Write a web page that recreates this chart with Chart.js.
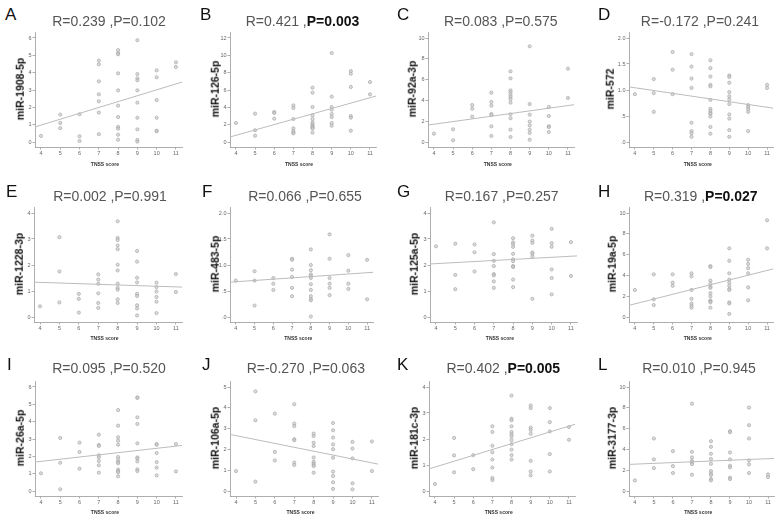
<!DOCTYPE html>
<html><head><meta charset="utf-8">
<script src="https://cdn.jsdelivr.net/npm/chart.js@4.4.0/dist/chart.umd.min.js"></script>
<style>
html,body{margin:0;padding:0;background:#fff;}
#wrap{position:relative;width:780px;height:520px;overflow:hidden;font-family:"Liberation Sans",Arial,sans-serif;}
canvas{position:absolute;}
.letter{position:absolute;font-size:17px;color:#111;line-height:1;transform:translate(0,-50%);}
.title{position:absolute;font-size:14px;color:#555;white-space:nowrap;transform:translate(-50%,-50%);line-height:1;}
.title b{color:#111;}
.ylab{position:absolute;font-size:10.5px;font-weight:bold;color:#111;white-space:nowrap;transform:translate(-50%,-50%) rotate(-90deg);line-height:1;}
.xlab{position:absolute;font-size:5px;font-weight:bold;color:#333;white-space:nowrap;transform:translate(-50%,-50%);line-height:1;}
</style></head>
<body><div id="wrap"></div>
<script>
// ---------- data ----------
const panelLetters = ['A','B','C','D','E','F','G','H','I','J','K','L'];
const geneNames = ['miR-1908-5p','miR-126-5p','miR-92a-3p','miR-572','miR-1228-3p','miR-483-5p','miR-125a-5p','miR-19a-5p','miR-26a-5p','miR-106a-5p','miR-181c-3p','miR-3177-3p'];
const rValues = ['0.239','0.421','0.083','-0.172','0.002','0.066','0.167','0.319','0.095','-0.270','0.402','0.010'];
const pValues = ['0.102','0.003','0.575','0.241','0.991','0.655','0.257','0.027','0.520','0.063','0.005','0.945'];
const xTicks = [4,5,6,7,8,9,10,11];
const xAxisTitle = 'TNSS score';

// y tick values and labels per panel
const yTicksInt6 = [0,1,2,3,4,5,6];
const yTicksInt4 = [0,1,2,3,4];
const yTicksInt5 = [0,1,2,3,4,5];
const yTicksEven10 = [0,2,4,6,8,10];
const yTicksEven12 = [0,2,4,6,8,10,12];
const yTicksHalf2 = [0,0.5,1,1.5,2];
const yLabelsHalf2 = ['.0','.5','1.0','1.5','2.0'];

// expression values grouped by TNSS score (4..11)
const miR1908 = [[0.35],[1.58,1.1,0.8],[1.6,0.33,0.06],[4.7,4.48,3.5,2.75,2.35,1.7,0.45],[5.3,5.13,5.06,3.96,2.98,2.1,1.44,0.87,0.77,0.42,0.13],[5.87,3.92,3.67,3.56,2.98,2.27,1.4,0.73,0.12,0.02],[4.13,3.73,2.42,1.4,0.65,0.62],[4.6,4.33]];
const miR126 = [[2.19],[3.27,1.35,0.73],[3.46,3.35,2.69],[4.23,3.92,2.65,1.58,1.27,1.08,1.0],[6.27,5.69,4.04,3.08,2.65,2.27,2.04,1.88,1.77,1.65,1.54,1.08],[10.27,5.23,4.04,3.73,3.23,2.88,2.19,1.88],[8.19,7.88,6.35,3.0,2.81,1.31],[6.92,5.5]];
const miR92a = [[0.8],[1.22,0.16],[3.56,3.2,2.44],[4.74,3.85,3.49,2.69,2.6,1.51,0.58],[6.79,6.12,4.97,4.78,4.55,4.33,4.13,3.78,2.66,2.28,1.19,0.48],[9.2,3.65,2.63,1.96,1.6,1.19,0.87,0.22],[3.37,2.5,1.51,1.44,0.96],[7.05,4.23]];
const miR572 = [[0.92],[1.21,0.94,0.58],[1.73,1.39,0.92],[1.69,1.45,1.22,1.04,0.37,0.21,0.17,0.1],[1.57,1.42,1.26,1.1,1.07,0.81,0.64,0.6,0.56,0.54,0.49,0.29,0.16],[1.28,1.25,1.14,0.96,0.88,0.82,0.73,0.53,0.45,0.23,0.1],[0.71,0.67,0.63,0.58,0.21],[1.1,1.04]];
const miR1228 = [[0.41],[3.07,1.75,0.56],[0.89,0.7,0.17],[1.64,1.44,1.28,0.91,0.54,0.35],[3.68,3.04,2.96,2.75,2.61,2.01,1.79,1.28,1.12,1.05,0.68,0.54],[2.54,2.13,1.51,1.33,0.89,0.81,0.45,0.33,0.06],[1.32,1.15,0.98,0.77,0.59,0.15],[1.65,0.96]];
const miR483 = [[0.70],[0.88,0.70,0.22],[0.75,0.64,0.52],[1.12,1.10,0.91,0.77,0.56,0.40],[1.30,1.0,0.90,0.82,0.79,0.75,0.63,0.52,0.40,0.35,0.32,0.01],[1.59,1.12,0.75,0.64,0.56,0.42],[1.19,0.89,0.64,0.54],[1.10,0.34]];
const miR125a = [[2.72],[2.82,1.62,1.07],[2.79,2.49,1.75],[3.64,2.42,2.16,1.96,1.65,1.6,1.37,1.12],[3.03,2.87,2.8,2.7,2.43,2.22,2.15,1.96,1.92,1.44,1.15],[3.13,2.94,2.85,2.48,2.44,2.33,0.7],[3.39,2.84,2.7,1.83,1.5,0.87],[2.88,1.58]];
const miR19a = [[2.6],[4.1,1.7,1.15],[4.1,3.3,3.0],[4.2,3.9,2.6,1.75,1.3,1.1,0.9],[4.9,4.8,3.5,3.2,2.9,2.8,2.3,2.0,1.6,1.5,1.4,0.9],[6.6,5.4,4.2,3.6,3.3,3.0,2.7,2.6,1.4,1.3,0.3],[5.5,5.1,4.7,4.2,2.85,1.6],[9.3,6.6]];
const miR26a = [[1.02],[3.06,1.63,0.1],[2.79,2.25,1.29],[3.25,2.65,2.6,2.06,1.94,1.73,1.48,1.06],[4.67,3.77,3.1,2.9,2.67,1.96,1.81,1.67,1.6,1.23,1.15,1.08,0.85],[5.4,5.37,4.25,3.87,2.75,1.94,1.87,1.71,1.25,1.15],[2.71,2.67,2.19,1.67,1.35,0.9],[2.71,1.13]];
const miR106a = [[0.96],[4.79,3.4,0.45],[3.72,1.88,1.47],[4.17,3.24,3.12,2.49,2.44,1.37,1.25],[2.76,2.64,2.32,2.16,1.61,1.41,1.33,1.25,1.2,0.88],[3.27,2.92,2.57,2.24,2.01,1.6,0.93,0.72,0.42,0.1],[2.36,2.04,1.57,0.37,0.08],[2.38,0.96]];
const miR181c = [[0.27],[2.04,1.37,0.72],[1.38,0.84],[2.49,2.27,1.74,1.49,1.21,0.9,0.5,0.42],[3.67,2.78,2.72,2.49,2.27,2.18,2.1,1.96,1.8,1.59,1.38,1.21],[3.29,3.19,2.44,2.35,2.2,1.16,0.75,0.6],[3.19,2.65,2.29,1.42,0.75],[2.46,1.97]];
const miR3177 = [[1.02],[5.05,3.04,2.2],[3.83,2.4,1.73],[8.4,3.77,3.23,2.91,2.75,2.59,1.57],[4.79,4.25,3.58,3.07,2.62,1.92,1.69,1.53,1.15,1.02],[5.75,5.65,3.71,3.04,2.43,2.27,1.28,1.15],[8.02,6.33,5.05,2.94,2.56,1.73],[1.6,1.34]];

// fitted line values read at the left and right ends of the x axis
const fitLeft  = [0.87,0.58,1.63,1.06,1.34,0.67,2.04,1.12,1.67,2.72,0.85,2.56];
const fitRight = [3.46,5.31,3.59,0.65,1.15,0.86,2.35,4.63,2.63,1.29,2.57,3.13];

const panelValues = [miR1908,miR126,miR92a,miR572,miR1228,miR483,miR125a,miR19a,miR26a,miR106a,miR181c,miR3177];
const panelYTicks = [yTicksInt6,yTicksEven12,yTicksEven10,yTicksHalf2,yTicksInt4,yTicksHalf2,yTicksInt4,yTicksEven10,yTicksInt6,yTicksInt5,yTicksInt4,yTicksEven10];
const panelYLabels = panelYTicks.map(t => t === yTicksHalf2 ? yLabelsHalf2 : t.map(String));

// ---------- layout ----------
const X_MIN = 3.69, X_MAX = 11.33;
const rowTop = [31.7, 206.7, 380.7];
const PLOT_H = 115;
const rowTitleY = [21, 196, 368];
const rowLetterY = [14, 191, 364];
const rowXlabY = [164.3, 338, 511.7];
const geo = [
  {t4:40.7, t11:176.7, lx:5,   ylx:20,    tcx:109},
  {t4:235.7,t11:370,   lx:200, ylx:215,   tcx:302.5},
  {t4:434.3,t11:569,   lx:397, ylx:411.7, tcx:500.8},
  {t4:635,  t11:768.3, lx:598, ylx:610,   tcx:700},
  {t4:40,   t11:176.7, lx:6,   ylx:19.3,  tcx:110},
  {t4:236,  t11:368.3, lx:202, ylx:215,   tcx:305},
  {t4:435.7,t11:571.7, lx:397, ylx:414,   tcx:501.7},
  {t4:635,  t11:768.3, lx:598, ylx:611.7, tcx:700.8},
  {t4:40.7, t11:176.7, lx:7,   ylx:20,    tcx:109},
  {t4:236,  t11:372.7, lx:202, ylx:215,   tcx:305.8},
  {t4:435,  t11:570,   lx:397, ylx:414,   tcx:503.3},
  {t4:635,  t11:769,   lx:598, ylx:611.7, tcx:699}
];

const wrap = document.getElementById('wrap');
function addDiv(cls, html, x, y){
  const d = document.createElement('div');
  d.className = cls; d.innerHTML = html;
  d.style.left = x + 'px'; d.style.top = y + 'px';
  wrap.appendChild(d); return d;
}

for (let i = 0; i < 12; i++) {
  const g = geo[i], row = Math.floor(i / 4);
  const s = (g.t11 - g.t4) / 7;
  const plotL = g.t4 - (4 - X_MIN) * s;
  const plotW = (X_MAX - X_MIN) * s;
  const top = rowTop[row];
  const canvas = document.createElement('canvas');
  const cw = Math.round(plotW) + 34, ch = PLOT_H + 6 + 14;
  canvas.width = cw; canvas.height = ch;
  canvas.style.width = cw + 'px'; canvas.style.height = ch + 'px';
  canvas.style.left = (Math.round(plotL) - 30) + 'px';
  canvas.style.top = (Math.round(top) - 6) + 'px';
  wrap.appendChild(canvas);

  const yt = panelYTicks[i], yl = panelYLabels[i];
  const topVal = yt[yt.length - 1];
  const pts = [];
  panelValues[i].forEach((arr, k) => arr.forEach(v => pts.push({x: xTicks[k], y: v})));

  new Chart(canvas.getContext('2d'), {
    type: 'scatter',
    data: { datasets: [
      { data: [{x: X_MIN, y: fitLeft[i]}, {x: X_MAX, y: fitRight[i]}], showLine: true,
        borderColor: '#bcbcbc', borderWidth: 1, pointRadius: 0, fill: false },
      { data: pts, pointRadius: 1.6, backgroundColor: 'rgba(205,205,205,0.7)',
        borderColor: '#a8a8a8', borderWidth: 0.7 }
    ]},
    options: {
      responsive: false, animation: false, devicePixelRatio: 1,
      layout: { padding: { top: 6, right: 4, left: 0, bottom: 0 } },
      plugins: { legend: { display: false }, tooltip: { enabled: false } },
      scales: {
        x: { type: 'linear', min: X_MIN, max: X_MAX,
          afterBuildTicks: sc => { sc.ticks = xTicks.map(v => ({value: v})); },
          afterFit: sc => { sc.height = 14; },
          ticks: { font: { size: 5.5, family: 'Liberation Sans' }, color: '#666', padding: 1,
                   maxRotation: 0, autoSkip: false, callback: v => String(v) },
          grid: { drawOnChartArea: false, drawTicks: true, tickLength: 2.5, color: '#999', lineWidth: 0.8 },
          border: { display: true, color: '#999', width: 0.8 } },
        y: { type: 'linear', min: -topVal * 5 / 104, max: topVal * 110 / 104,
          afterBuildTicks: sc => { sc.ticks = yt.map(v => ({value: v})); },
          afterFit: sc => { sc.width = 30; },
          ticks: { font: { size: 5.5, family: 'Liberation Sans' }, color: '#666', padding: 1,
                   autoSkip: false, callback: (v, idx) => yl[idx] },
          grid: { drawOnChartArea: false, drawTicks: true, tickLength: 2.5, color: '#999', lineWidth: 0.8 },
          border: { display: true, color: '#999', width: 0.8 } }
      }
    }
  });

  addDiv('letter', panelLetters[i], g.lx, rowLetterY[row]);
  const sig = parseFloat(pValues[i]) < 0.05;
  const ptxt = 'P=' + pValues[i];
  addDiv('title', 'R=' + rValues[i] + ' ,' + (sig ? '<b>' + ptxt + '</b>' : ptxt), g.tcx, rowTitleY[row]);
  addDiv('ylab', geneNames[i], g.ylx, top + PLOT_H / 2);
  addDiv('xlab', xAxisTitle, plotL + plotW / 2 - 4, rowXlabY[row]);
}
</script>
</body></html>
